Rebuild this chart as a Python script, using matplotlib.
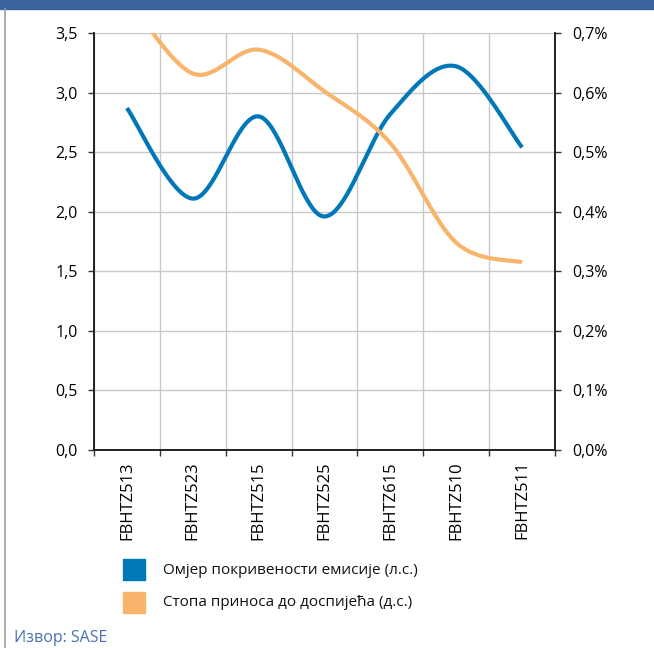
import numpy as np
import matplotlib.pyplot as plt
from matplotlib.ticker import FuncFormatter
from matplotlib.patches import Rectangle
from matplotlib.lines import Line2D

plt.rcParams['font.family'] = ['Open Sans', 'DejaVu Sans']

# data
bonds = ["FBHTZ513", "FBHTZ523", "FBHTZ515", "FBHTZ525", "FBHTZ615", "FBHTZ510", "FBHTZ511"]
coverage = [2.87, 2.11, 2.80, 1.96, 2.82, 3.22, 2.54]          # left axis
yield_pct = [0.76, 0.632, 0.672, 0.602, 0.515, 0.348, 0.315]  # right axis, %

blue = "#0078B8"
orange = "#F9B46B"


def smooth(y, num=40):
    # Catmull-Rom through the points, endpoints duplicated (like Excel's smoothed line)
    y = np.asarray(y, dtype=float)
    x = np.arange(len(y), dtype=float)
    px = np.concatenate([[x[0]], x, [x[-1]]])
    py = np.concatenate([[y[0]], y, [y[-1]]])
    xs, ys = [], []
    t = np.linspace(0, 1, num)
    h00 = 2 * t**3 - 3 * t**2 + 1
    h10 = t**3 - 2 * t**2 + t
    h01 = -2 * t**3 + 3 * t**2
    h11 = t**3 - t**2
    for i in range(1, len(px) - 2):
        mx0 = (px[i + 1] - px[i - 1]) / 2
        mx1 = (px[i + 2] - px[i]) / 2
        my0 = (py[i + 1] - py[i - 1]) / 2
        my1 = (py[i + 2] - py[i]) / 2
        xs.append(h00 * px[i] + h10 * mx0 + h01 * px[i + 1] + h11 * mx1)
        ys.append(h00 * py[i] + h10 * my0 + h01 * py[i + 1] + h11 * my1)
    return np.concatenate(xs), np.concatenate(ys)


fig = plt.figure(figsize=(6.54, 6.48), dpi=100)

# frame: blue band on top, grey line on the left
fig.patches.append(Rectangle((0, 1 - 9 / 648), 1, 9 / 648, transform=fig.transFigure,
                             color="#3A63A0", zorder=0))
fig.add_artist(Line2D([5 / 654, 5 / 654], [0, 1 - 9 / 648], transform=fig.transFigure,
                      color="#A0A0A0", lw=1.2))

ax = fig.add_axes([94 / 654, 1 - 450 / 648, 461 / 654, 417 / 648])
ax2 = ax.twinx()

n = len(bonds)
ax.set_xlim(-0.5, n - 0.5)
ax.set_ylim(0, 3.5)
ax2.set_ylim(0, 0.7)

bx, by = smooth(coverage)
ox, oy = smooth(yield_pct)
ax.plot(bx, by, color=blue, lw=3, solid_capstyle="butt", zorder=3)
ax2.plot(ox, oy, color=orange, lw=3, solid_capstyle="butt", zorder=3)

# Excel-style grid: horizontal at y ticks, vertical between categories
ax.set_yticks(np.arange(0, 3.51, 0.5))
ax2.set_yticks(np.arange(0, 0.71, 0.1))
ax.set_xticks(np.arange(-0.5, n, 1.0))
ax.set_xticklabels([])
ax.set_xticks(np.arange(n), minor=True)
ax.set_xticklabels(bonds, minor=True, rotation=90)
ax.tick_params(axis="x", which="minor", length=0, pad=8, labelsize=12)
ax.tick_params(axis="x", which="major", length=4.5, width=1, color="#333333", direction="out")
ax.tick_params(axis="y", length=4.5, width=1, color="#333333", labelsize=11.5, pad=7)
ax2.tick_params(axis="y", length=4.5, width=1, color="#333333", labelsize=11.5, pad=8)
ax.grid(True, which="major", color="#C8C8C8", lw=1)
ax.set_axisbelow(True)

ax.yaxis.set_major_formatter(FuncFormatter(lambda v, p: f"{v:.1f}".replace(".", ",")))
ax2.yaxis.set_major_formatter(FuncFormatter(lambda v, p: f"{v:.1f}%".replace(".", ",")))

for a in (ax, ax2):
    a.spines["top"].set_visible(False)
    for s in ("left", "right", "bottom"):
        a.spines[s].set_color("#222222")
        a.spines[s].set_linewidth(1.2)

# legend drawn as squares + text
legend_items = ["Омјер покривености емисије (л.с.)", "Стопа приноса до доспијећа (д.с.)"]
for i, (lab, col) in enumerate(zip(legend_items, [blue, orange])):
    yc = 1 - (570 + 33 * i) / 648
    fig.patches.append(Rectangle((123 / 654, yc - 10 / 648), 22 / 654, 21 / 648,
                                 transform=fig.transFigure, color=col))
    fig.text(163 / 654, yc, lab, fontsize=11, va="center", ha="left", color="#111111")

fig.text(14 / 654, 1 - 638 / 648, "Извор: SASE", fontsize=11.5, va="center", ha="left",
         color="#4A72B0")

fig.savefig("out.png", dpi=100)
